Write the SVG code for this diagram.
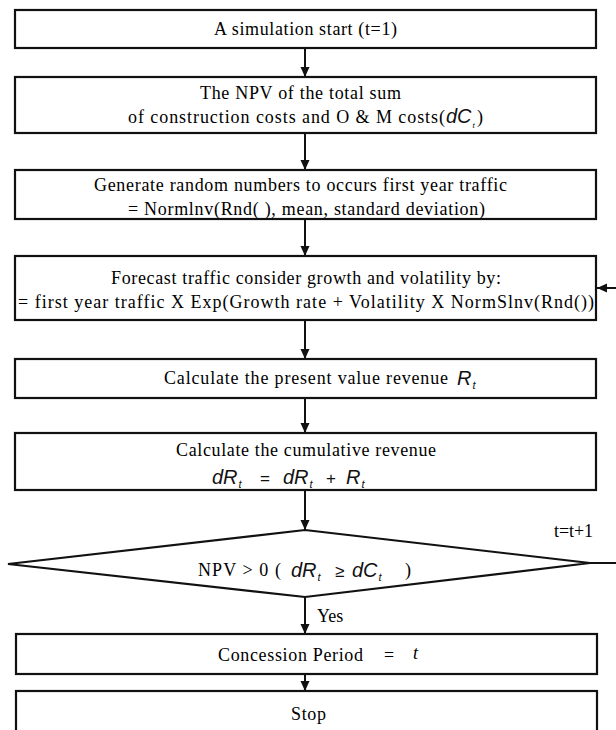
<svg xmlns="http://www.w3.org/2000/svg" width="616" height="730" viewBox="0 0 616 730">
<style>
.box{fill:#fff;stroke:#111;stroke-width:2.2}
.ser{font-family:"Liberation Serif","Times New Roman",serif;font-size:18px;fill:#000}
.m{font-family:"Liberation Sans",Arial,sans-serif;font-style:italic;font-size:20px;fill:#111}
.sub{font-family:"Liberation Sans",Arial,sans-serif;font-style:italic;font-size:11px;fill:#111}
.op{font-family:"Liberation Sans",Arial,sans-serif;font-size:17px;fill:#111}
.c{fill:none;stroke:#111;stroke-width:2}
</style>
<defs>
<marker id="ah" markerUnits="userSpaceOnUse" markerWidth="10" markerHeight="10" refX="10" refY="5" orient="auto">
<path d="M0,0.5 L10,5 L0,9.5 z" fill="#111"/>
</marker>
</defs>
<rect width="616" height="730" fill="#fff"/>
<g id="connectors">
<line class="c" x1="305" y1="48" x2="305" y2="77" marker-end="url(#ah)"/>
<line class="c" x1="305" y1="133" x2="305" y2="170" marker-end="url(#ah)"/>
<line class="c" x1="305" y1="219" x2="305" y2="256" marker-end="url(#ah)"/>
<line class="c" x1="305" y1="320" x2="305" y2="359" marker-end="url(#ah)"/>
<line class="c" x1="305" y1="398" x2="305" y2="433" marker-end="url(#ah)"/>
<line class="c" x1="305" y1="490" x2="305" y2="530" marker-end="url(#ah)"/>
<line class="c" x1="305" y1="597" x2="305" y2="634" marker-end="url(#ah)"/>
<line class="c" x1="305" y1="674" x2="305" y2="691" marker-end="url(#ah)"/>
<path class="c" d="M590,563 H640 V288 H597" marker-end="url(#ah)"/>
<text class="ser" x="317" y="622" font-size="17">Yes</text>
<text class="ser" x="554" y="537" font-size="16" textLength="39">t=t+1</text>
</g>
<g id="start">
<rect class="box" x="15" y="10" width="581" height="38"/>
<text class="ser" x="214" y="35" textLength="183">A simulation  start (t=1)</text>
</g>
<g id="npv-costs">
<rect class="box" x="15" y="77" width="581" height="56"/>
<text class="ser" x="200" y="99" textLength="201">The NPV of the total sum</text>
<text class="ser" x="128" y="123" textLength="317">of construction  costs and O &amp; M costs(</text>
<text class="m" x="446" y="123" font-size="16">dC<tspan font-size="8" dx="1" dy="5">t</tspan></text>
<text class="ser" x="477" y="123">)</text>
</g>
<g id="random-traffic">
<rect class="box" x="15" y="170" width="581" height="49"/>
<text class="ser" x="94" y="191" textLength="413">Generate  random  numbers  to  occurs first  year  traffic</text>
<text class="ser" x="128" y="215" textLength="357">= Normlnv(Rnd(   ), mean,  standard  deviation)</text>
</g>
<g id="forecast">
<rect class="box" x="15" y="256" width="581" height="64"/>
<text class="ser" x="111" y="284" textLength="390">Forecast traffic  consider  growth  and volatility  by:</text>
<text class="ser" x="18" y="308" textLength="576">= first  year traffic   X  Exp(Growth  rate + Volatility   X  NormSlnv(Rnd())</text>
</g>
<g id="present-value">
<rect class="box" x="15" y="359" width="581" height="39"/>
<text class="ser" x="164" y="384" textLength="284">Calculate  the  present value  revenue</text>
<text class="m" x="457" y="385">R<tspan font-size="11" dx="1" dy="4">t</tspan></text>
</g>
<g id="cumulative">
<rect class="box" x="15" y="433" width="581" height="57"/>
<text class="ser" x="176" y="456" textLength="260">Calculate  the cumulative  revenue</text>
<text class="m" x="212" y="484">dR<tspan font-size="11" dx="1" dy="4">t</tspan></text>
<text class="op" x="260" y="484">=</text>
<text class="m" x="283" y="484">dR<tspan font-size="11" dx="1" dy="4">t</tspan></text>
<text class="op" x="326" y="484">+</text>
<text class="m" x="346" y="484">R<tspan font-size="11" dx="1" dy="4">t</tspan></text>
</g>
<g id="decision">
<polygon class="box" points="305,530 590,563 305,597 8,564"/>
<text class="ser" x="198" y="576" textLength="83">NPV &gt; 0 (</text>
<text class="m" x="291" y="577">dR<tspan font-size="11" dx="1" dy="4">t</tspan></text>
<text class="op" x="335" y="577">≥</text>
<text class="m" x="352" y="577">dC<tspan font-size="11" dx="1" dy="4">t</tspan></text>
<text class="ser" x="405" y="576">)</text>
</g>
<g id="concession">
<rect class="box" x="16" y="634" width="581" height="40"/>
<text class="ser" x="218" y="661" textLength="145">Concession  Period</text>
<text class="ser" x="384" y="661">=</text>
<text class="ser" x="413" y="659" font-style="italic" font-size="14">t</text>
</g>
<g id="stop">
<rect class="box" x="16" y="691" width="581" height="50"/>
<text class="ser" x="291" y="720" textLength="35">Stop</text>
</g>
</svg>
